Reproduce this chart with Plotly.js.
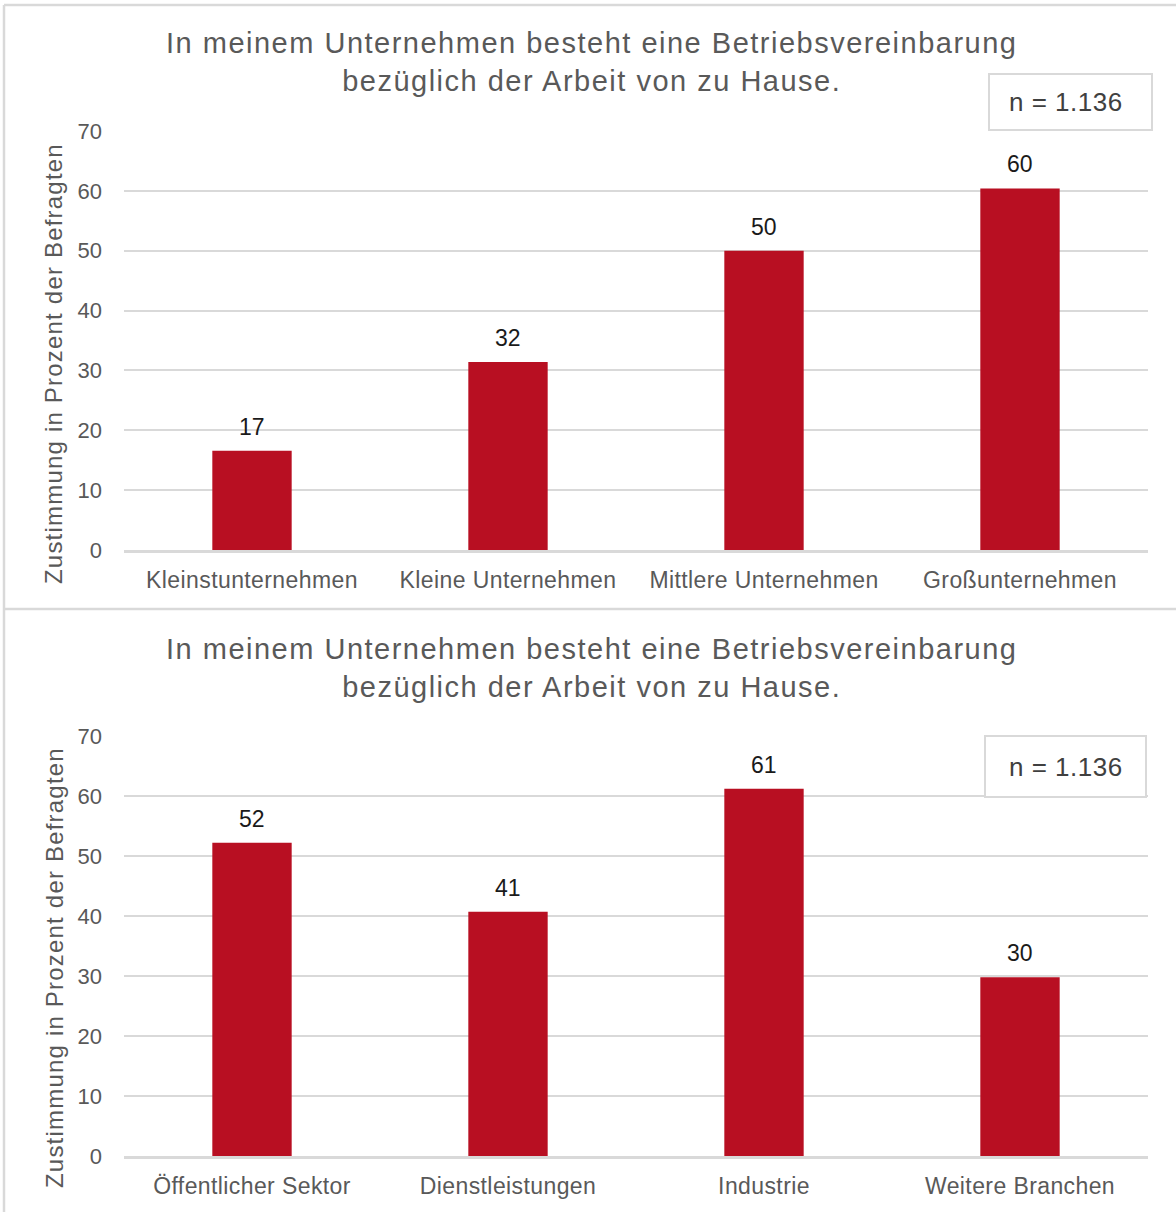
<!DOCTYPE html>
<html>
<head>
<meta charset="utf-8">
<script src="https://cdn.plot.ly/plotly-3.0.1.min.js"></script>
<style>
html,body{margin:0;padding:0;background:#fff}
#chart{width:1176px;height:1212px}
#chart .xtick text, #chart .x2tick text{letter-spacing:0.4px}
</style>
</head>
<body>
<div id="chart"></div>
<script>
// Data
const titleLines = ["In meinem Unternehmen besteht eine Betriebsvereinbarung", "bezüglich der Arbeit von zu Hause."];
const yTitle = "Zustimmung in Prozent der Befragten";
const nText = "n = 1.136";

const sizeCategories = ["Kleinstunternehmen", "Kleine Unternehmen", "Mittlere Unternehmen", "Großunternehmen"];
const sizeValues = [16.6, 31.4, 50, 60.4];
const sizeLabels = ["17", "32", "50", "60"];

const sectorCategories = ["Öffentlicher Sektor", "Dienstleistungen", "Industrie", "Weitere Branchen"];
const sectorValues = [52.2, 40.7, 61.2, 29.8];
const sectorLabels = ["52", "41", "61", "30"];

const yTicks = [0, 10, 20, 30, 40, 50, 60, 70];

// Layout helpers (pixel -> paper)
const W = 1176, H = 1212;
const px = x => x / W;
const py = y => 1 - y / H;

const FONT = "Liberation Sans, Arial, sans-serif";
const GREY = "#595959";
const RED = "#b80f22";
const GRID = "#d9d9d9";

const spaced = (s, ls) => '<span style="letter-spacing:' + ls + 'px">' + s + '</span>';
const titleText = titleLines.map(l => spaced(l, 1.5)).join("<br>");

const traces = [
  {type: "bar", x: sizeCategories, y: sizeValues, xaxis: "x", yaxis: "y",
   marker: {color: RED}, hoverinfo: "x+y"},
  {type: "bar", x: sectorCategories, y: sectorValues, xaxis: "x2", yaxis: "y2",
   marker: {color: RED}, hoverinfo: "x+y"}
];

function yAxis(domain, anchor) {
  return {
    domain: domain, anchor: anchor, range: [0, 70], tickvals: yTicks,
    showgrid: true, gridcolor: GRID, gridwidth: 2, zeroline: false,
    showline: false, ticks: "", ticklabelstandoff: 21,
    tickfont: {family: FONT, size: 22, color: GREY}, fixedrange: true
  };
}
function xAxis(domain, anchor) {
  return {
    domain: domain, anchor: anchor, showgrid: false, zeroline: false,
    showline: true, linecolor: GRID, linewidth: 2.5, ticks: "",
    ticklabelstandoff: 8,
    tickfont: {family: FONT, size: 23, color: GREY}, fixedrange: true
  };
}

const annotations = [];
function addPanel(cats, labels, vals, xa, ya, titleY, yTitleY, boxCY) {
  annotations.push({xref: "paper", yref: "paper", x: px(591), y: py(titleY),
    xanchor: "center", yanchor: "middle", showarrow: false, text: titleText,
    font: {family: FONT, size: 29, color: GREY}, align: "center"});
  annotations.push({xref: "paper", yref: "paper", x: px(54), y: py(yTitleY),
    xanchor: "center", yanchor: "middle", showarrow: false, text: spaced(yTitle, 1.2), textangle: -90,
    font: {family: FONT, size: 24, color: GREY}});
  annotations.push({xref: "paper", yref: "paper", x: px(1066), y: py(boxCY),
    xanchor: "center", yanchor: "middle", showarrow: false, text: spaced(nText, 0.5),
    font: {family: FONT, size: 26, color: "#404040"}});
  cats.forEach((c, i) => {
    annotations.push({xref: xa, yref: ya, x: c, y: vals[i], text: labels[i],
      showarrow: false, yanchor: "bottom", yshift: 9,
      font: {family: FONT, size: 23, color: "#1a1a1a"}});
  });
}
addPanel(sizeCategories, sizeLabels, sizeValues, "x", "y", 61.5, 364, 102);
addPanel(sectorCategories, sectorLabels, sectorValues, "x2", "y2", 667.5, 968, 767);

const shapes = [
  // outer frame and separator
  {type: "line", xref: "paper", yref: "paper", x0: px(4), x1: px(1176), y0: py(5), y1: py(5), line: {color: GRID, width: 2.5}},
  {type: "line", xref: "paper", yref: "paper", x0: px(4), x1: px(4), y0: py(5), y1: py(1212), line: {color: GRID, width: 2.5}},
  {type: "line", xref: "paper", yref: "paper", x0: px(4), x1: px(1176), y0: py(609), y1: py(609), line: {color: GRID, width: 2.5}},
  // n boxes
  {type: "rect", xref: "paper", yref: "paper", x0: px(989), x1: px(1152), y0: py(130), y1: py(74), fillcolor: "#fff", line: {color: GRID, width: 2}, layer: "above"},
  {type: "rect", xref: "paper", yref: "paper", x0: px(985), x1: px(1146), y0: py(797), y1: py(736), fillcolor: "#fff", line: {color: GRID, width: 2}, layer: "above"}
];

const layout = {
  width: W, height: H, margin: {l: 0, r: 0, t: 0, b: 0},
  paper_bgcolor: "#fff", plot_bgcolor: "#fff", showlegend: false,
  bargap: 0.69,
  xaxis: xAxis([px(124), px(1148)], "y"),
  yaxis: yAxis([py(550), py(131)], "x"),
  xaxis2: xAxis([px(124), px(1148)], "y2"),
  yaxis2: yAxis([py(1156), py(736)], "x2"),
  annotations: annotations, shapes: shapes,
  font: {family: FONT}
};

Plotly.newPlot("chart", traces, layout, {displayModeBar: false, staticPlot: true});
</script>
</body>
</html>
